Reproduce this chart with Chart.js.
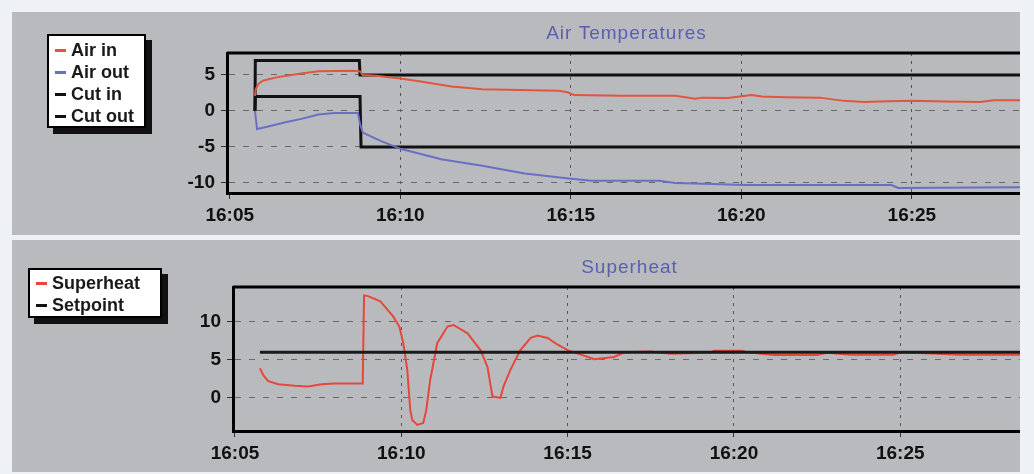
<!DOCTYPE html>
<html>
<head>
<meta charset="utf-8">
<script src="https://cdn.jsdelivr.net/npm/chart.js@4.4.1/dist/chart.umd.min.js"></script>
<style>
  html, body { margin: 0; padding: 0; }
  body { width: 1034px; height: 474px; background: #eef2f7; position: relative; overflow: hidden;
         font-family: "Liberation Sans", Arial, sans-serif; }
  .panel { position: absolute; left: 12px; width: 1008px; background: #b9babe; }
  #p1 { top: 12px; height: 223px; }
  #p2 { top: 240px; height: 232px; }
  .panel canvas { position: absolute; left: 0; top: 0; }
  .legend { position: absolute; background: #fff; border: 2px solid #000; box-shadow: 6px 6px 0 #111;
            font-size: 18px; font-weight: bold; line-height: 22px; color: #1a1a1a; padding: 0 4px; box-sizing: border-box; }
  .legend div { white-space: nowrap; }
  .legend span { display: inline-block; width: 11px; height: 3px; vertical-align: middle; margin-right: 5px; position: relative; top: -1px; }
</style>
</head>
<body>
<div class="panel" id="p1"><canvas id="airChart" width="1008" height="223"></canvas></div>
<div class="panel" id="p2"><canvas id="shChart" width="1008" height="232"></canvas></div>

<div class="legend" style="left:47px; top:34px; width:99px; height:94px; padding-top:3px; padding-left:6px;">
  <div><span style="background:#e2553f"></span>Air in</div>
  <div><span style="background:#6b6fc4"></span>Air out</div>
  <div><span style="background:#111"></span>Cut in</div>
  <div><span style="background:#111"></span>Cut out</div>
</div>
<div class="legend" style="left:28px; top:268px; width:134px; height:50px; padding-top:2px; padding-left:6px;">
  <div><span style="background:#e5483a"></span>Superheat</div>
  <div><span style="background:#111"></span>Setpoint</div>
</div>

<script>
// time = minutes after 16:00
const xTicks = [5, 10, 15, 20, 25];

const airInTime = [5.74, 5.76, 5.85, 5.97, 6.4, 7.1, 7.6, 8.6, 8.82, 8.9, 9.3, 10.0, 10.6, 11.5, 12.4, 13.5, 14.65, 14.9, 15.1, 16.5, 18.06, 18.65, 18.85, 19.6, 20.3, 20.6, 21.3, 22.3, 23.0, 23.6, 24.3, 25.0, 26.0, 27.0, 27.4, 28.3];
const airInTemp = [2.1, 3.0, 3.8, 4.2, 4.7, 5.2, 5.5, 5.6, 5.5, 5.0, 4.9, 4.5, 4.1, 3.4, 3.0, 2.9, 2.8, 2.6, 2.2, 2.1, 2.1, 1.7, 1.85, 1.8, 2.2, 2.0, 1.9, 1.85, 1.4, 1.25, 1.35, 1.4, 1.3, 1.25, 1.5, 1.5];

const airOutTime = [5.74, 5.8, 6.1, 6.6, 7.1, 7.6, 8.06, 8.76, 8.82, 8.9, 9.44, 10.03, 11.2, 12.4, 13.65, 14.94, 15.6, 17.6, 18.06, 19.4, 20.1, 24.4, 24.6, 28.3];
const airOutTemp = [0.0, -2.5, -2.2, -1.6, -1.1, -0.5, -0.3, -0.3, -1.8, -3.0, -4.2, -5.3, -6.7, -7.6, -8.7, -9.4, -9.7, -9.7, -10.0, -10.2, -10.3, -10.3, -10.7, -10.6];

const cutInTime = [5.74, 5.75, 8.8, 8.82, 28.3];
const cutInTemp = [0, 7, 7, 5, 5];
const cutOutTime = [5.74, 5.75, 8.82, 8.85, 28.3];
const cutOutTemp = [0, 2, 2, -5, -5];

const superheatTime = [5.75, 5.85, 6.0, 6.3, 6.8, 7.2, 7.6, 8.0, 8.84, 8.88, 9.0, 9.37, 9.76, 9.94, 10.06, 10.18, 10.27, 10.33, 10.48, 10.66, 10.75, 10.87, 11.08, 11.39, 11.57, 11.99, 12.38, 12.59, 12.74, 12.98, 13.07, 13.28, 13.58, 13.89, 14.1, 14.4, 14.7, 15.0, 15.4, 15.8, 16.4, 16.7, 17.5, 18.1, 18.9, 19.3, 19.4, 20.25, 20.4, 21.2, 22.5, 22.8, 23.5, 24.8, 25.0, 26.8, 28.6];
const superheatVal = [3.9, 3.0, 2.2, 1.8, 1.6, 1.5, 1.8, 1.9, 1.9, 13.5, 13.4, 12.7, 10.7, 9.4, 7.2, 3.7, -1.6, -2.9, -3.55, -3.3, -1.6, 2.4, 7.2, 9.4, 9.6, 8.5, 6.3, 4.1, 0.2, 0.0, 1.5, 3.7, 6.3, 7.9, 8.2, 7.9, 7.0, 6.3, 5.7, 5.1, 5.4, 6.0, 6.1, 5.8, 5.9, 6.0, 6.2, 6.2, 6.0, 5.65, 5.65, 5.95, 5.7, 5.7, 6.0, 5.7, 5.7];

const setpointTime = [5.75, 28.6];
const setpointVal = [6, 6];

const airTicks = [5, 0, -5, -10];
const shTicks = [10, 5, 0];

function pts(xs, ys) { return xs.map((x, i) => ({ x: x, y: ys[i] })); }
function fmtTime(v) { return "16:" + String(Math.round(v)).padStart(2, "0"); }

const tickFont = { family: "Liberation Sans, Arial, sans-serif", size: 19, weight: "bold" };

// title centred over plot area + top frame line
const titleFrame = {
  id: "titleFrame",
  afterDraw(chart, args, opts) {
    const { ctx, chartArea } = chart;
    ctx.save();
    ctx.strokeStyle = "#000";
    ctx.lineWidth = 3;
    ctx.beginPath();
    ctx.moveTo(chartArea.left, chartArea.top);
    ctx.lineTo(chartArea.right, chartArea.top);
    ctx.stroke();
    ctx.fillStyle = "#5b5fae";
    ctx.font = "19px Liberation Sans, Arial, sans-serif";
    ctx.letterSpacing = "1px";
    ctx.textAlign = "center";
    ctx.textBaseline = "middle";
    ctx.fillText(opts.text, (chartArea.left + chartArea.right) / 2 + 3, opts.y);
    ctx.restore();
  }
};

function makeChart(id, datasets, cfg) {
  return new Chart(document.getElementById(id), {
    type: "line",
    data: { datasets: datasets },
    options: {
      responsive: false,
      animation: false,
      layout: { padding: { top: cfg.top, left: 0, right: 0, bottom: 0 } },
      elements: { point: { radius: 0 }, line: { tension: 0 } },
      plugins: { legend: { display: false }, tooltip: { enabled: false },
                 titleFrame: { text: cfg.title, y: cfg.titleY } },
      scales: {
        x: {
          type: "linear", min: cfg.xMin, max: cfg.xMax,
          afterBuildTicks: s => { s.ticks = xTicks.map(v => ({ value: v })); },
          afterFit: s => { s.height = cfg.xHeight; },
          ticks: { color: "#111", font: tickFont, padding: 5, callback: v => fmtTime(v), maxRotation: 0 },
          grid: { color: c => (c.tick && c.tick.value === xTicks[0]) ? "rgba(0,0,0,0)" : "#555",
                  lineWidth: 1, tickLength: 6, tickColor: "#333" },
          border: { display: true, color: "#000", width: 3, dash: [3, 5] }
        },
        y: {
          min: cfg.yMin, max: cfg.yMax,
          afterBuildTicks: s => { s.ticks = cfg.yTicks.map(v => ({ value: v })); },
          afterFit: s => { s.width = cfg.yWidth; },
          ticks: { color: "#111", font: tickFont, padding: 6 },
          grid: { color: "#6a6a6a", lineWidth: 1, tickLength: 6, tickColor: "#333" },
          border: { display: true, color: "#000", width: 3, dash: [6, 8] }
        }
      }
    },
    plugins: [titleFrame]
  });
}

makeChart("airChart", [
  { label: "Air in", data: pts(airInTime, airInTemp), borderColor: "#e2553f", borderWidth: 2 },
  { label: "Air out", data: pts(airOutTime, airOutTemp), borderColor: "#6b6fc4", borderWidth: 2 },
  { label: "Cut in", data: pts(cutInTime, cutInTemp), borderColor: "#111", borderWidth: 3 },
  { label: "Cut out", data: pts(cutOutTime, cutOutTemp), borderColor: "#111", borderWidth: 3 }
], { top: 41, xHeight: 42, yWidth: 215, xMin: 4.92, xMax: 28.17, yMin: -11.4, yMax: 8.05,
     yTicks: airTicks, title: "Air Temperatures", titleY: 22 });

// setpoint (order 0) ends up drawn over the superheat trace
makeChart("shChart", [
  { label: "Setpoint", data: pts(setpointTime, setpointVal), borderColor: "#1a1a1a", borderWidth: 3, order: 0 },
  { label: "Superheat", data: pts(superheatTime, superheatVal), borderColor: "#e5483a", borderWidth: 2, order: 1 }
], { top: 47, xHeight: 41, yWidth: 221, xMin: 4.94, xMax: 28.6, yMin: -4.35, yMax: 14.6,
     yTicks: shTicks, title: "Superheat", titleY: 28 });
</script>
</body>
</html>
